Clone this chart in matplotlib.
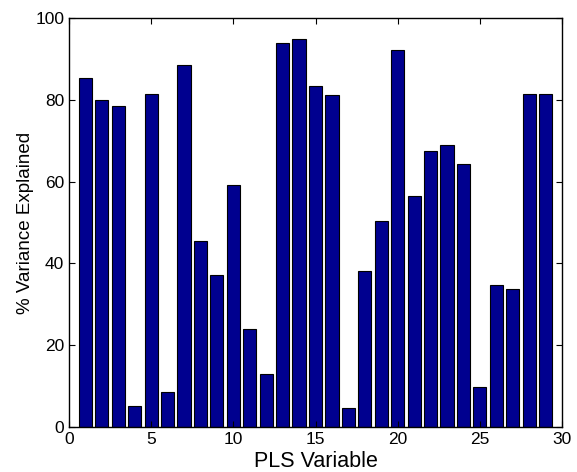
import numpy as np
import matplotlib
matplotlib.use('Agg')
import matplotlib.pyplot as plt

# PLS variable index and % variance explained per variable
pls_vars = list(range(1, 30))
variance = [85.4, 80.0, 78.4, 5.2, 81.5, 8.6, 88.5, 45.4, 37.1, 59.1,
            23.9, 13.0, 94.0, 94.9, 83.5, 81.3, 4.7, 38.1, 50.4, 92.3,
            56.6, 67.6, 68.9, 64.3, 9.9, 34.8, 33.7, 81.4, 81.4]
x_ticks = [0, 5, 10, 15, 20, 25, 30]
y_ticks = [0, 20, 40, 60, 80, 100]

plt.rcParams['font.family'] = ['Liberation Sans', 'DejaVu Sans']

fig = plt.figure(figsize=(5.77, 4.72), dpi=100)
ax = fig.add_axes([0.1196, 0.0953, 0.8544, 0.8665])

ax.bar(pls_vars, variance, width=0.8, color='#00008F',
       edgecolor='black', linewidth=0.8)

ax.set_xlim(0, 30)
ax.set_ylim(0, 100)
ax.set_xticks(x_ticks)
ax.set_yticks(y_ticks)
ax.tick_params(direction='in', top=True, right=True, length=4,
               labelsize=12.5, width=0.8)
for s in ax.spines.values():
    s.set_linewidth(1.0)

ax.set_xlabel('PLS Variable', fontsize=15.5, labelpad=3)
ax.set_ylabel('% Variance Explained', fontsize=13.5, labelpad=1)

fig.savefig('out.png', dpi=100)
